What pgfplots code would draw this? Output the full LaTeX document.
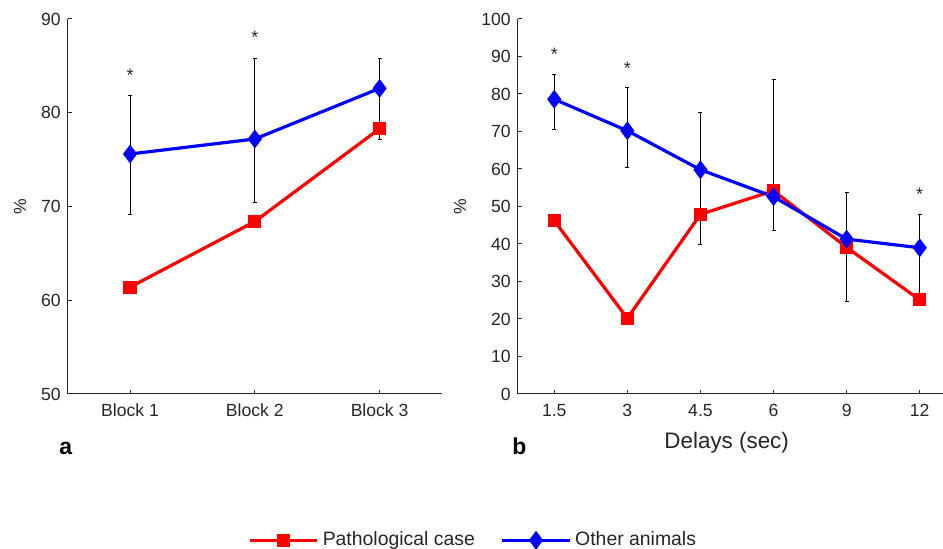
\documentclass[border=0pt]{standalone}
\usepackage{fontspec}
\setmainfont{Liberation Sans}
\usepackage{pgfplots}
\usepackage{pgfplotstable}
\pgfplotsset{compat=1.18}

\definecolor{axgray}{gray}{0.15}

\pgfplotstableread{
x y
1 61.4
2 68.4
3 78.3
}\pathA
\pgfplotstableread{
x y ep em
1 75.6 6.2 6.5
2 77.2 8.6 6.8
3 82.6 3.2 5.5
}\otherA
\pgfplotstableread{
x y
1 46.2
2 20.2
3 47.9
4 54.2
5 39.1
6 25.1
}\pathB
\pgfplotstableread{
x y ep em
1 78.6 6.6 8.0
2 70.2 11.5 9.7
3 59.8 15.2 20.0
4 52.6 31.2 9.0
5 41.3 12.4 16.7
6 39.0 8.9 12.4
}\otherB

\pgfplotsset{
  mystyle/.style={
    scale only axis,
    axis x line*=bottom,
    axis y line*=left,
    axis line style={axgray, line width=0.5pt},
    tick style={axgray, line width=0.5pt},
    tick align=inside,
    major tick length=2pt,
    ticklabel style={font=\fontsize{8.8}{10}\selectfont, text=axgray},
    xticklabel style={yshift=-1.5pt},
    /pgf/number format/assume math mode=true,
    label style={font=\fontsize{8.8}{10}\selectfont, text=axgray},
    clip=false,
  },
  redline/.style={red, line width=1.6pt, mark=square*, mark size=2.5pt, mark options={solid}},
  blueline/.style={blue, line width=1.6pt, mark=diamond*, mark size=3.4pt, mark options={solid}},
  errs/.style={error bars/.cd, y dir=both, y explicit,
    error bar style={black, line width=0.5pt},
    error mark options={black, line width=0.5pt, mark size=1pt, rotate=90}},
  stars/.style={draw=none, mark=none, forget plot, nodes near coords={*},
    every node near coord/.style={anchor=center, font=\fontsize{9}{10}\selectfont, text=axgray}},
}

\begin{document}
\begin{tikzpicture}
\useasboundingbox (0pt,0pt) rectangle (471.5pt,-274.5pt);

\begin{axis}[mystyle,
  at={(33.85pt,-197pt)}, anchor=south west,
  width=187.15pt, height=187.5pt,
  xmin=0.5, xmax=3.5, ymin=50, ymax=90,
  xtick={1,2,3}, xticklabels={Block 1,Block 2,Block 3},
  ytick={50,60,70,80,90},
  ylabel={\%},
  ylabel style={at={(axis description cs:-0.1274,0.5)}, anchor=center},
  legend columns=2,
  legend style={at={(1.086,-0.39)}, anchor=center, draw=none, fill=none,
    font=\fontsize{9.7}{11}\selectfont, text=axgray,
    /tikz/every even column/.append style={column sep=11pt}},
  legend image code/.code={\draw[mark repeat=2, mark phase=2, #1] plot coordinates {(0pt,0pt) (16.8pt,0pt) (33.6pt,0pt)};},
]
\addplot[redline] table[x=x,y=y] {\pathA};
\addlegendentry{Pathological case}
\addplot[blueline, errs] table[x=x,y=y,y error plus=ep,y error minus=em] {\otherA};
\addlegendentry{Other animals}
\addplot[stars] coordinates {(1,84.0) (2,88.1)};
\end{axis}

\begin{axis}[mystyle,
  at={(258.85pt,-197pt)}, anchor=south west,
  width=219.3pt, height=187.5pt,
  xmin=0.5, xmax=6.5, ymin=0, ymax=100,
  xtick={1,2,3,4,5,6}, xticklabels={1.5,3,4.5,6,9,12},
  ytick={0,10,20,30,40,50,60,70,80,90,100},
  ylabel={\%},
  ylabel style={at={(axis description cs:-0.1316,0.5)}, anchor=center},
  xlabel={Delays (sec)},
  xlabel style={at={(axis description cs:0.4765,-0.1445)}, anchor=base, font=\fontsize{11.2}{12}\selectfont},
]
\addplot[redline] table[x=x,y=y] {\pathB};
\addplot[blueline, errs] table[x=x,y=y,y error plus=ep,y error minus=em] {\otherB};
\addplot[stars] coordinates {(1,90.6) (2,86.9) (6,53.2)};
\end{axis}

\node[anchor=base, inner sep=0pt] at (32.85pt,-227.5pt) {\fontsize{11.5}{12}\selectfont\bfseries a};
\node[anchor=base, inner sep=0pt] at (259.65pt,-227.5pt) {\fontsize{11.5}{12}\selectfont\bfseries b};
\end{tikzpicture}
\end{document}
